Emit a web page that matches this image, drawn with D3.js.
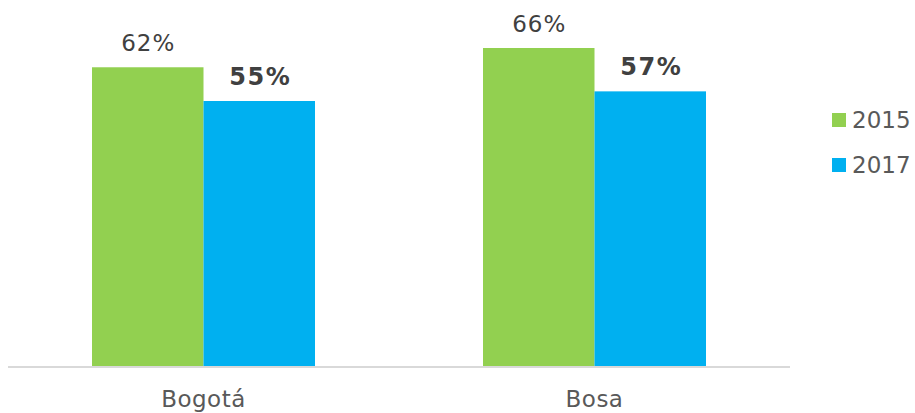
<!DOCTYPE html>
<meta charset="utf-8">
<style>
  body { margin: 0; padding: 0; background: white; }
  svg { display: block; background: white; font-family: "DejaVu Sans", Verdana, sans-serif; }
</style>
<script src="https://d3js.org/d3.v7.min.js"></script>
<svg id="vis" width="915" height="413"></svg>
<script>

// data
var categories = ["Bogotá", "Bosa"];
var years = ["2015", "2017"];
var values2015 = [62, 66];
var values2017 = [55, 57];
var colors = ["#92D050", "#00B0F0"];
var boldLabel = [false, true];

var rows = categories.map(function(c, i) {
  return { cat: c, vals: [values2015[i], values2017[i]] };
});

var svg = d3.select("#vis");

var x0 = d3.scaleBand().domain(categories).range([8, 790]);
var groupW = 223;
var x1 = d3.scaleBand().domain(years).range([0, groupW]);
var y = d3.scaleLinear().domain([0, 66]).range([366, 48]);

// bars
var g = svg.selectAll("g.cat")
  .data(rows)
  .enter().append("g")
  .attr("class", "cat")
  .attr("transform", function(d) {
    return "translate(" + (x0(d.cat) + (x0.bandwidth() - groupW) / 2) + ",0)";
  });

g.selectAll("rect")
  .data(function(d) { return d.vals.map(function(v, j) { return { year: years[j], v: v, j: j }; }); })
  .enter().append("rect")
  .attr("x", function(d) { return x1(d.year); })
  .attr("y", function(d) { return y(d.v); })
  .attr("width", x1.bandwidth())
  .attr("height", function(d) { return y(0) - y(d.v); })
  .attr("fill", function(d) { return colors[d.j]; });

// value labels (letter-spacing adds a trailing gap, so nudge back by half)
g.selectAll("text")
  .data(function(d) { return d.vals.map(function(v, j) { return { year: years[j], v: v, j: j }; }); })
  .enter().append("text")
  .attr("x", function(d) { return x1(d.year) + x1.bandwidth() / 2; })
  .attr("dx", function(d) { return boldLabel[d.j] ? 1 : 0.5; })
  .attr("y", function(d) { return y(d.v) - 16; })
  .attr("text-anchor", "middle")
  .attr("font-size", function(d) { return boldLabel[d.j] ? 24 : 23; })
  .attr("letter-spacing", function(d) { return boldLabel[d.j] ? 1.5 : 1; })
  .attr("font-weight", function(d) { return boldLabel[d.j] ? "bold" : "normal"; })
  .attr("fill", "#404040")
  .text(function(d) { return d.v + "%"; });

// axis
svg.append("line")
  .attr("x1", 8).attr("x2", 790)
  .attr("y1", y(0) + 1).attr("y2", y(0) + 1)
  .attr("stroke", "#d9d9d9")
  .attr("stroke-width", 2);

svg.selectAll("text.axis")
  .data(categories)
  .enter().append("text")
  .attr("class", "axis")
  .attr("x", function(d) { return x0(d) + x0.bandwidth() / 2; })
  .attr("y", 407)
  .attr("text-anchor", "middle")
  .attr("font-size", 23)
  .attr("letter-spacing", 0.5)
  .attr("fill", "#595959")
  .text(function(d) { return d; });

// legend
var leg = svg.selectAll("g.leg")
  .data(years)
  .enter().append("g")
  .attr("class", "leg")
  .attr("transform", function(d, i) { return "translate(832," + (113 + i * 45) + ")"; });

leg.append("rect")
  .attr("width", 14).attr("height", 14)
  .attr("fill", function(d, i) { return colors[i]; });

leg.append("text")
  .attr("x", 20).attr("y", 15)
  .attr("font-size", 23)
  .attr("fill", "#595959")
  .text(function(d) { return d; });

</script>
